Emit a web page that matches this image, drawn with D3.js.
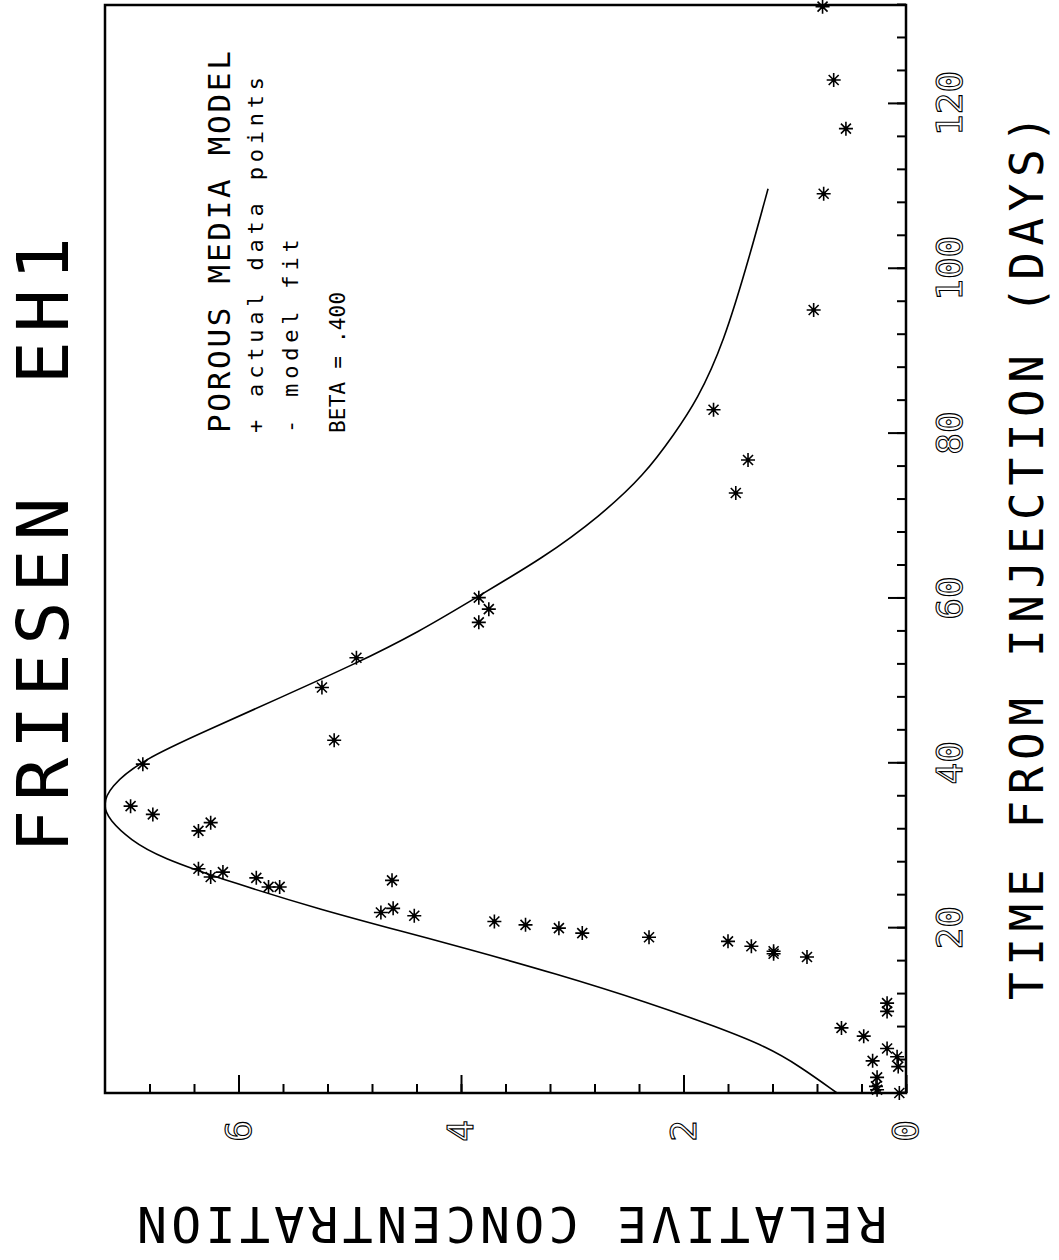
<!DOCTYPE html>
<html>
<head>
<meta charset="utf-8">
<script src="https://cdn.jsdelivr.net/npm/d3@7"></script>
<style>
  body { margin: 0; background: #fff; }
  text { font-family: "DejaVu Sans Mono", monospace; fill: #000; }
</style>
</head>
<body>
<div id="chart"></div>
<script>
const titleText = 'FRIESEN  EH1';
const timeLabel = 'TIME FROM INJECTION (DAYS)';
const concLabel = 'RELATIVE CONCENTRATION';
const legendLines = ['POROUS MEDIA MODEL', '+ actual data points', '- model fit', 'BETA = .400'];

const timeTicks = [20, 40, 60, 80, 100, 120];
const concTicks = [0, 2, 4, 6];

// observed points: time (days) / relative concentration
const obsTime = [131.8, 122.9, 117.0, 109.1, 95.0, 82.9, 76.8, 72.8,
  60.1, 58.7, 57.1, 52.8, 49.2, 42.8, 39.9, 34.8, 33.8, 32.8, 31.8,
  27.2, 26.8, 26.2, 26.1, 25.0, 25.0, 25.8, 22.4, 21.9, 21.5,
  20.8, 20.4, 20.0, 19.4, 18.9, 18.4, 17.8, 17.2, 16.9, 16.5,
  10.9, 9.9, 7.9, 6.9, 5.4, 4.4, 3.9, 3.2, 1.9, 0.8, 0.4, 0.0];
const obsConc = [0.75, 0.65, 0.54, 0.74, 0.83, 1.73, 1.42, 1.53,
  3.84, 3.75, 3.84, 4.94, 5.25, 5.14, 6.86, 6.97, 6.77, 6.25, 6.36,
  6.36, 6.14, 6.25, 5.84, 5.73, 5.63, 4.62, 4.61, 4.72, 4.42,
  3.70, 3.42, 3.12, 2.91, 2.31, 1.60, 1.39, 1.19, 1.19, 0.89,
  0.17, 0.17, 0.58, 0.38, 0.17, 0.08, 0.30, 0.07, 0.26, 0.27, 0.26, 0.06];

// model fit curve
const fitTime = [0, 3.2, 5.6, 8, 10.9, 14.5, 17.7, 19.5, 22.2, 25.5, 28.6, 30.7, 33.1, 34.9,
  37.1, 40.4, 44, 48, 52, 56, 60, 65, 70, 75, 80, 84, 90.9, 101.8, 109.7];
const fitConc = [0.62, 0.95, 1.25, 1.70, 2.30, 3.15, 4.0, 4.5, 5.25, 6.05, 6.71, 6.97, 7.16, 7.22,
  7.16, 6.87, 6.28, 5.62, 4.96, 4.37, 3.88, 3.25, 2.75, 2.35, 2.08, 1.88, 1.64, 1.40, 1.24];

const width = 1059, height = 1260;
const left = 105, bottom = 1093;   // plot corner on the page
const W = 1088, H = 801;           // native plot size (before rotating)

const svg = d3.select('#chart').append('svg')
  .attr('width', width).attr('height', height)
  .style('background', '#fff');

// the whole figure is drawn upright, then turned a quarter turn to the left
const g = svg.append('g')
  .attr('transform', `translate(${left},${bottom}) rotate(-90)`);

const x = d3.scaleLinear().domain([0, 132]).range([0, W]);
const y = d3.scaleLinear().domain([0, 7.2]).range([H, 0]);

// minor ticks
g.append('g')
  .attr('transform', `translate(0,${H})`)
  .call(d3.axisBottom(x).tickValues(d3.range(0, 133, 4)).tickSize(-9).tickFormat(''))
  .call(a => a.select('.domain').remove())
  .selectAll('line').attr('stroke-width', 2);
g.append('g')
  .call(d3.axisLeft(y).tickValues(d3.range(0, 7.2, 0.4)).tickSize(-9).tickFormat(''))
  .call(a => a.select('.domain').remove())
  .selectAll('line').attr('stroke-width', 2);

// major ticks + labels
const xAxis = g.append('g')
  .attr('transform', `translate(0,${H})`)
  .call(d3.axisBottom(x).tickValues(timeTicks).tickSize(-18).tickPadding(30))
  .call(a => a.select('.domain').remove());
xAxis.selectAll('line').attr('stroke-width', 2);

const yAxis = g.append('g')
  .call(d3.axisLeft(y).tickValues(concTicks).tickSize(-18).tickPadding(27))
  .call(a => a.select('.domain').remove());
yAxis.selectAll('line').attr('stroke-width', 2);

g.selectAll('.tick text')
  .attr('font-family', 'DejaVu Sans Mono')
  .attr('font-size', 36)
  .style('fill', '#fff')
  .style('stroke', '#000')
  .style('stroke-width', 1.1);

// frame
g.append('rect')
  .attr('x', 0).attr('y', 0).attr('width', W).attr('height', H)
  .attr('fill', 'none').attr('stroke', '#000').attr('stroke-width', 2.5);

// model fit
const line = d3.line()
  .x((d, i) => x(fitTime[i]))
  .y(d => y(d))
  .curve(d3.curveBasis);
g.append('path')
  .datum(fitConc)
  .attr('d', line)
  .attr('fill', 'none')
  .attr('stroke', '#000')
  .attr('stroke-width', 1.6);

// data points as asterisks
const star = 'M-7,0L7,0M0,-7L0,7M-5,-5L5,5M-5,5L5,-5';
const pts = g.append('g').selectAll('g')
  .data(obsTime)
  .join('g')
    .attr('transform', (d, i) => `translate(${x(d)},${y(obsConc[i])})`);
pts.append('path').attr('d', star).attr('stroke', '#000').attr('stroke-width', 1.6).attr('fill', 'none');
pts.append('circle').attr('r', 2.2).attr('fill', '#000');

// legend block
const legend = [
  { y: 125, size: 31, ls: 2.7 },
  { y: 158, size: 22, ls: 4.8 },
  { y: 193, size: 22, ls: 4.8 },
  { y: 240, size: 21, ls: 0.2 }
];
g.append('g').selectAll('text')
  .data(legendLines)
  .join('text')
    .attr('x', 660)
    .attr('y', (d, i) => legend[i].y)
    .attr('font-size', (d, i) => legend[i].size)
    .attr('letter-spacing', (d, i) => legend[i].ls)
    .style('white-space', 'pre')
    .text(d => d);

// axis titles
g.append('text')
  .attr('x', 93).attr('y', 938)
  .attr('font-size', 46)
  .attr('letter-spacing', 6.6)
  .text(timeLabel);

g.append('text')
  .attr('transform', 'translate(-114,405) rotate(-90)')
  .attr('text-anchor', 'middle')
  .attr('font-size', 50)
  .attr('letter-spacing', 4.2)
  .text(concLabel);

// well title
g.append('text')
  .attr('x', 240).attr('y', -37)
  .attr('font-size', 72)
  .attr('letter-spacing', 8.7)
  .style('white-space', 'pre')
  .text(titleText);
</script>
</body>
</html>
